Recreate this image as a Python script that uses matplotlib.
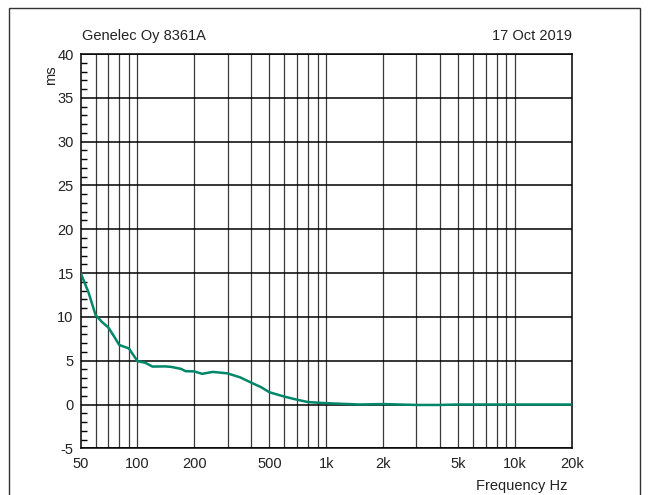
import matplotlib
matplotlib.use("Agg")
import matplotlib.pyplot as plt
from matplotlib.patches import Rectangle
from matplotlib.ticker import FixedLocator, MultipleLocator, NullLocator

plt.rcParams['font.family'] = ['Liberation Sans', 'DejaVu Sans']
plt.rcParams['axes.unicode_minus'] = False

# group delay
freq = [50, 55, 60, 65, 70, 75, 80, 90, 100, 110, 120, 140, 150, 170, 180, 200,
        220, 250, 280, 300, 350, 400, 450, 500, 600, 700, 800, 1000, 1500, 2000,
        3000, 4000, 5000, 7000, 10000, 15000, 20000]
delay = [15.0, 12.8, 10.2, 9.4, 8.8, 7.8, 6.8, 6.4, 4.95, 4.76, 4.33, 4.35, 4.3,
         4.07, 3.8, 3.78, 3.5, 3.72, 3.62, 3.55, 3.1, 2.5, 2.0, 1.4, 0.9, 0.55,
         0.28, 0.15, 0.0, 0.05, -0.05, -0.05, 0.0, 0.0, 0.0, 0.0, 0.0]

grid_freqs = [60, 70, 80, 90, 100, 200, 300, 400, 500, 600, 700, 800, 900, 1000,
              2000, 3000, 4000, 5000, 6000, 7000, 8000, 9000, 10000]
xtick_vals = [50, 100, 200, 500, 1000, 2000, 5000, 10000, 20000]
xtick_labels = ['50', '100', '200', '500', '1k', '2k', '5k', '10k', '20k']

fig = plt.figure(figsize=(6.48, 4.95), dpi=100)
ax = fig.add_axes([0.1245, 0.0943, 0.7578, 0.7966])

for f in grid_freqs:
    ax.axvline(f, color='#3a3a3a', lw=0.9, zorder=1)
for v in range(-5, 41, 5):
    ax.axhline(v, color='black', lw=1.1, zorder=1)

ax.plot(freq, delay, color='#00876a', lw=1.8, zorder=3, solid_capstyle='round')

ax.set_xscale('log')
ax.set_xlim(50, 20000)
ax.set_ylim(-5, 40)
ax.xaxis.set_major_locator(FixedLocator(xtick_vals))
ax.set_xticklabels(xtick_labels)
ax.xaxis.set_minor_locator(NullLocator())
ax.yaxis.set_major_locator(MultipleLocator(5))
ax.yaxis.set_minor_locator(MultipleLocator(1))
ax.tick_params(axis='x', which='both', length=0, pad=6, labelsize=10.5, colors='#222222')
ax.tick_params(axis='y', which='major', length=0, pad=5, labelsize=10.5, colors='#222222')
ax.tick_params(axis='y', which='minor', direction='in', length=4, width=1, color='black')
for s in ax.spines.values():
    s.set_linewidth(1.1)
    s.set_color('black')

fig.text(0.127, 0.928, 'Genelec Oy 8361A', fontsize=10.5, color='#222222', va='center')
fig.text(0.882, 0.928, '17 Oct 2019', fontsize=10.5, color='#222222', va='center', ha='right')
fig.text(0.0787, 0.8485, 'ms', fontsize=10.5, rotation=90, color='#222222', va='center', ha='center')
fig.text(0.8765, 0.018, 'Frequency Hz', fontsize=10.5, color='#222222', ha='right', va='center')

fig.patches.append(Rectangle((0.0139, -0.02), 0.9738, 1.0038, transform=fig.transFigure,
                             fill=False, edgecolor='#333333', lw=1.0))

fig.savefig('out.png', dpi=100)
